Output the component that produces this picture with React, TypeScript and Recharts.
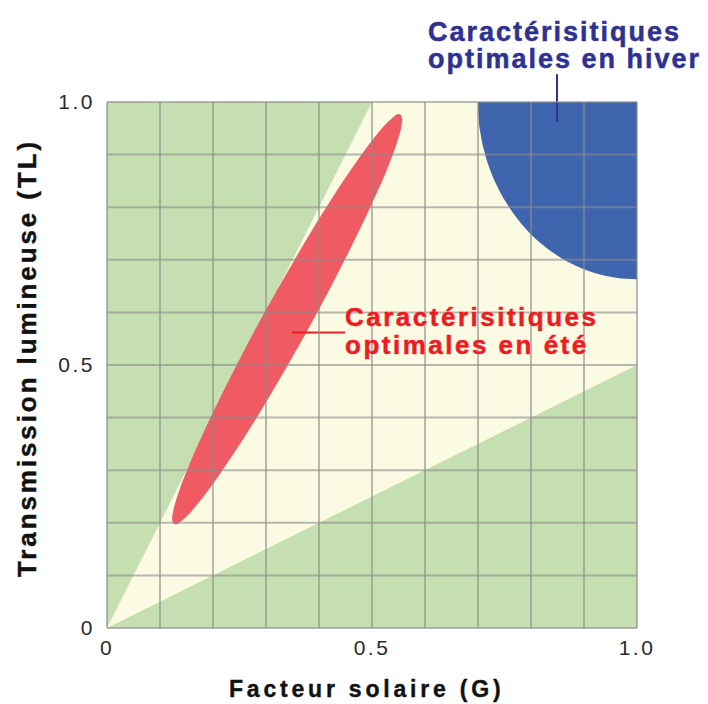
import React from 'react'
import {
  ComposedChart,
  Area,
  XAxis,
  YAxis,
  CartesianGrid,
  ReferenceLine,
} from 'recharts'

// graduations (une ligne de grille tous les 0.1)
const gridTicks = [0, 0.1, 0.2, 0.3, 0.4, 0.5, 0.6, 0.7, 0.8, 0.9, 1.0]
const tickLabels: Record<string, string> = { '0': '0', '0.5': '0.5', '1': '1.0' }

// zone crème : entre TL = 0.5 G et TL = 2 G
const zoneX = [0, 0.5, 1]
const zoneLow = [0, 0.25, 0.5]
const zoneHigh = [0, 1, 1]

// caractéristiques optimales en été (ellipse rouge)
const eteX = [0.123, 0.125, 0.13, 0.14, 0.15, 0.18, 0.22, 0.26, 0.3, 0.34, 0.38, 0.42, 0.46, 0.5, 0.53, 0.54, 0.55, 0.555, 0.557]
const eteLow = [0.205, 0.199, 0.197, 0.203, 0.212, 0.247, 0.303, 0.364, 0.429, 0.498, 0.569, 0.644, 0.723, 0.807, 0.876, 0.902, 0.932, 0.951, 0.964]
const eteHigh = [0.212, 0.223, 0.242, 0.272, 0.298, 0.367, 0.451, 0.53, 0.605, 0.676, 0.745, 0.81, 0.871, 0.927, 0.962, 0.971, 0.977, 0.975, 0.968]

// caractéristiques optimales en hiver (coin bleu)
const hiverX = [0.7, 0.701, 0.705, 0.712, 0.72, 0.735, 0.76, 0.79, 0.83, 0.87, 0.92, 0.96, 1.0]
const hiverLow = [1.0, 0.972, 0.939, 0.906, 0.879, 0.842, 0.798, 0.759, 0.722, 0.696, 0.675, 0.666, 0.663]
const hiverHigh = [1, 1, 1, 1, 1, 1, 1, 1, 1, 1, 1, 1, 1]

type Row = { g: number; zone?: number[]; ete?: number[]; hiver?: number[] }

const rowsByX = new Map<number, Row>()
const addSeries = (xs: number[], lows: number[], highs: number[], key: 'zone' | 'ete' | 'hiver') => {
  xs.forEach((x, i) => {
    const row = rowsByX.get(x) ?? { g: x }
    row[key] = [lows[i], highs[i]]
    rowsByX.set(x, row)
  })
}
addSeries(zoneX, zoneLow, zoneHigh, 'zone')
addSeries(eteX, eteLow, eteHigh, 'ete')
addSeries(hiverX, hiverLow, hiverHigh, 'hiver')
const data = [...rowsByX.values()].sort((a, b) => a.g - b.g)

const FONT = '"Liberation Sans", Arial, Helvetica, sans-serif'
const tickStyle = { fill: '#2a2a2a', fontSize: 21, letterSpacing: 2.5, fontFamily: FONT }
const fmt = (v: number) => tickLabels[String(v)] ?? ''

export default function App() {
  return (
    <div style={{ position: 'absolute', left: 0, top: 0, width: 708, height: 704, background: '#fff' }}>
      <ComposedChart
        width={708}
        height={704}
        data={data}
        margin={{ top: 102, right: 71, bottom: 0, left: 0 }}
      >
        {/* fond vert */}
        <CartesianGrid horizontal={false} vertical={false} fill="#c6dfb1" fillOpacity={1} />
        <XAxis
          dataKey="g"
          type="number"
          domain={[0, 1]}
          ticks={gridTicks}
          interval={0}
          tickFormatter={fmt}
          axisLine={false}
          tickLine={false}
          tickSize={0}
          tickMargin={12}
          height={76}
          tick={tickStyle}
        />
        <YAxis
          type="number"
          domain={[0, 1]}
          ticks={gridTicks}
          interval={0}
          tickFormatter={fmt}
          axisLine={false}
          tickLine={false}
          tickSize={0}
          tickMargin={12}
          width={107}
          tick={tickStyle}
        />
        <Area
          dataKey="zone"
          type="linear"
          connectNulls
          stroke="none"
          fill="#fbfae3"
          fillOpacity={1}
          isAnimationActive={false}
          activeDot={false}
        />
        <Area
          dataKey="hiver"
          type="monotone"
          connectNulls
          stroke="none"
          fill="#3e65ae"
          fillOpacity={1}
          isAnimationActive={false}
          activeDot={false}
        />
        <Area
          dataKey="ete"
          type="monotone"
          connectNulls
          stroke="none"
          fill="#f05a62"
          fillOpacity={1}
          isAnimationActive={false}
          activeDot={false}
        />
        <CartesianGrid
          stroke="#8c8c8c"
          strokeOpacity={0.6}
          strokeWidth={2}
          fill="none"
          zIndex={450}
        />
        <ReferenceLine
          segment={[{ x: 0.849, y: 1.053 }, { x: 0.849, y: 0.962 }]}
          stroke="#2e3192"
          strokeWidth={2}
          ifOverflow="visible"
        />
        <ReferenceLine
          segment={[{ x: 0.349, y: 0.562 }, { x: 0.449, y: 0.562 }]}
          stroke="#ed1c24"
          strokeWidth={2}
          ifOverflow="visible"
        />
      </ComposedChart>

      <svg
        width={708}
        height={704}
        style={{ position: 'absolute', left: 0, top: 0, pointerEvents: 'none' }}
      >
        <g fontFamily={FONT} fontWeight="bold">
          <g fill="#2e3192" stroke="#2e3192" strokeWidth={0.5} fontSize={27} letterSpacing={2}>
            <text x={428} y={41}>Caractérisitiques</text>
            <text x={428} y={68}>optimales en hiver</text>
          </g>
          <g fill="#ed1c24" stroke="#ed1c24" strokeWidth={0.5} fontSize={26} letterSpacing={2.5}>
            <text x={345} y={326}>Caractérisitiques</text>
            <text x={345} y={354}>optimales en été</text>
          </g>
          <text x={229} y={697} fontSize={23} letterSpacing={3.8} fill="#111" stroke="#111" strokeWidth={0.4}>
            Facteur solaire (G)
          </text>
          <text
            transform="translate(36,577) rotate(-90)"
            fontSize={26}
            letterSpacing={2.9}
            fill="#111"
            stroke="#111"
            strokeWidth={0.4}
          >
            Transmission lumineuse (TL)
          </text>
        </g>
      </svg>
    </div>
  )
}
